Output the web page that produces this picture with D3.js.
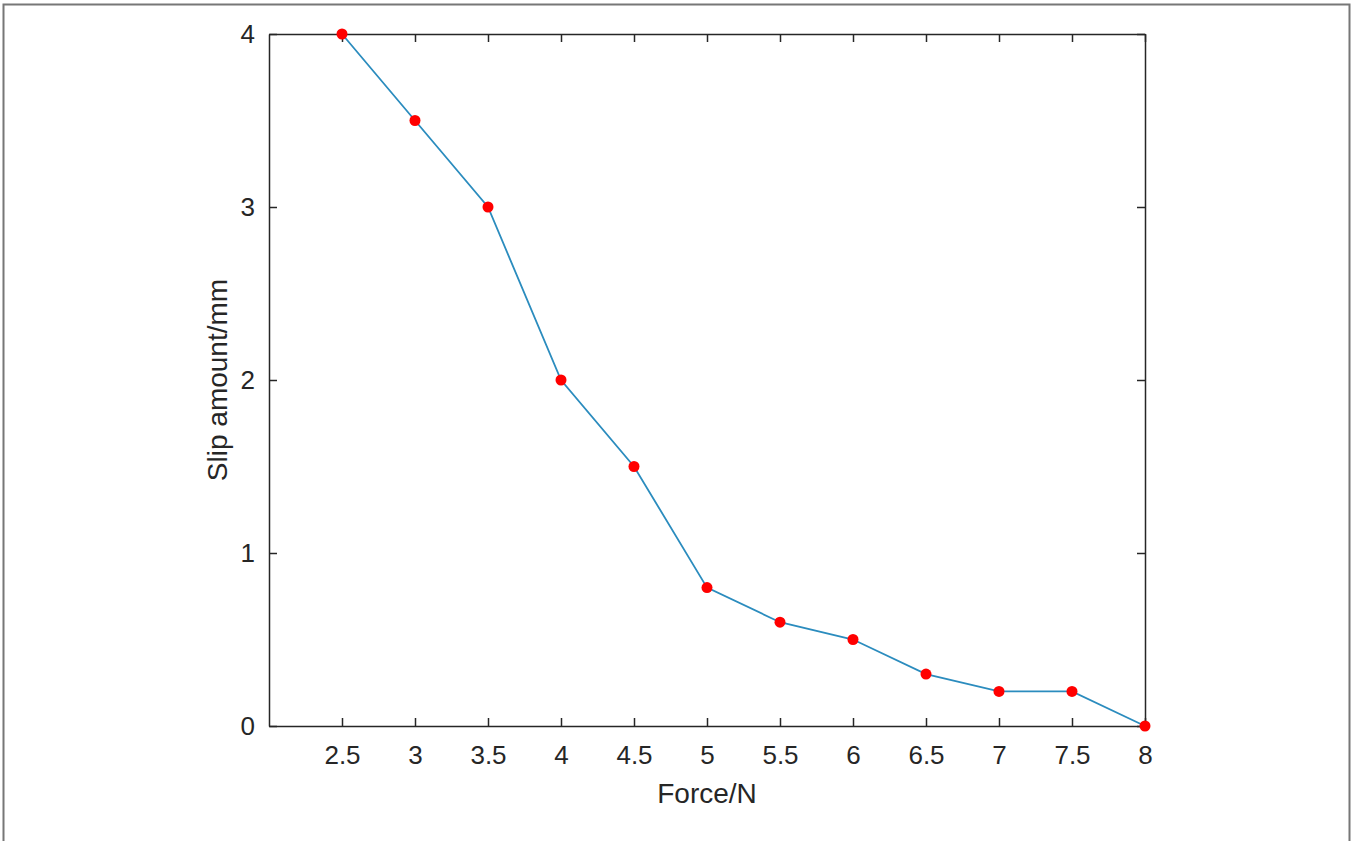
<!DOCTYPE html>
<html>
<head>
<meta charset="utf-8">
<script src="https://cdn.jsdelivr.net/npm/d3@7.9.0/dist/d3.min.js"></script>
<style>
  html, body { margin: 0; padding: 0; background: #fff; }
  svg { display: block; font-family: "Liberation Sans", Arial, sans-serif; }
</style>
</head>
<body>
<svg id="chart" width="1352" height="841"></svg>
<script>
const forces = [2.5, 3, 3.5, 4, 4.5, 5, 5.5, 6, 6.5, 7, 7.5, 8];
const slip = [4, 3.5, 3, 2, 1.5, 0.8, 0.6, 0.5, 0.3, 0.2, 0.2, 0];
const xTicks = [2.5, 3, 3.5, 4, 4.5, 5, 5.5, 6, 6.5, 7, 7.5, 8];
const yTicks = [0, 1, 2, 3, 4];

const svg = d3.select('#chart');
const W = 1352, H = 841;
const m = { left: 269, right: 1145, top: 34, bottom: 726 };

// outer frame (open at the bottom, like the cropped figure)
svg.append('path')
  .attr('d', `M3.5,${H} V4.5 H${W - 2.5} V${H}`)
  .attr('fill', 'none').attr('stroke', '#777').attr('stroke-width', 2);

const x = d3.scaleLinear().domain([2, 8]).range([m.left, m.right]);
const y = d3.scaleLinear().domain([0, 4]).range([m.bottom, m.top]);

const tickLen = 8;
const axisColor = '#262626';

// bottom axis
const gBottom = svg.append('g').attr('transform', `translate(0,${m.bottom})`)
  .call(d3.axisBottom(x).tickValues(xTicks).tickSizeInner(-tickLen).tickSizeOuter(0).tickPadding(20).tickFormat(d3.format('')));
// top axis (ticks only)
const gTop = svg.append('g').attr('transform', `translate(0,${m.top})`)
  .call(d3.axisTop(x).tickValues(xTicks).tickSizeInner(-tickLen).tickSizeOuter(0).tickFormat(''));
// left axis
const gLeft = svg.append('g').attr('transform', `translate(${m.left},0)`)
  .call(d3.axisLeft(y).tickValues(yTicks).tickSizeInner(-tickLen).tickSizeOuter(0).tickPadding(14).tickFormat(d3.format('')));
// right axis (ticks only)
const gRight = svg.append('g').attr('transform', `translate(${m.right},0)`)
  .call(d3.axisRight(y).tickValues(yTicks).tickSizeInner(-tickLen).tickSizeOuter(0).tickFormat(''));

[gBottom, gTop, gLeft, gRight].forEach(g => {
  g.select('.domain').attr('stroke', axisColor).attr('stroke-width', 1.5);
  g.selectAll('.tick line').attr('stroke', axisColor).attr('stroke-width', 1.5);
  g.selectAll('.tick text').attr('fill', '#262626').style('font-size', '26px');
});

// axis titles
svg.append('text')
  .attr('x', (m.left + m.right) / 2).attr('y', 803)
  .attr('text-anchor', 'middle').attr('fill', '#262626')
  .style('font-size', '28px').text('Force/N');

svg.append('text')
  .attr('transform', `translate(227,${(m.top + m.bottom) / 2}) rotate(-90)`)
  .attr('text-anchor', 'middle').attr('fill', '#262626')
  .style('font-size', '28px').text('Slip amount/mm');

const data = forces.map((f, i) => ({ f, s: slip[i] }));

svg.append('path')
  .datum(data)
  .attr('fill', 'none')
  .attr('stroke', '#2b8cbe')
  .attr('stroke-width', 1.8)
  .attr('d', d3.line().x(d => x(d.f)).y(d => y(d.s)));

svg.selectAll('circle.pt')
  .data(data)
  .join('circle')
  .attr('class', 'pt')
  .attr('cx', d => x(d.f))
  .attr('cy', d => y(d.s))
  .attr('r', 5.5)
  .attr('fill', '#ff0000');
</script>
</body>
</html>
